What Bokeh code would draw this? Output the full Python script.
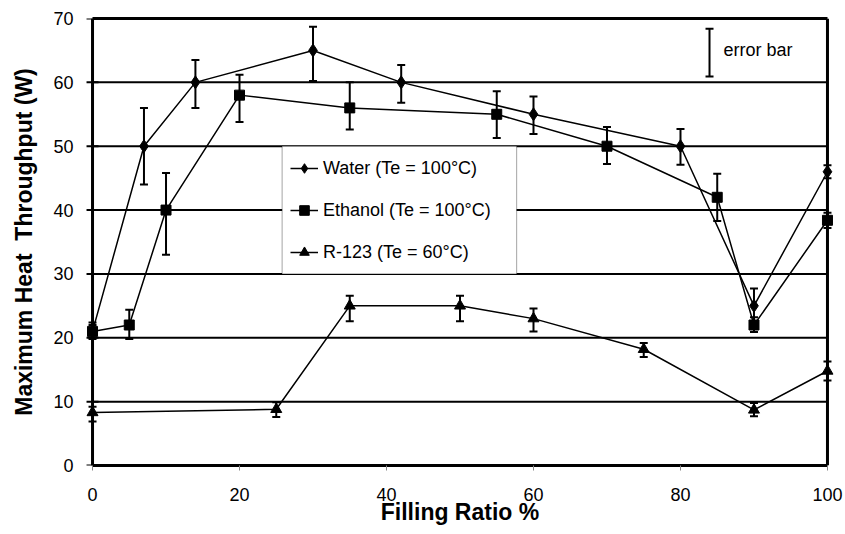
from bokeh.plotting import figure
from bokeh.models import (ColumnDataSource, Whisker, TeeHead, Legend, LegendItem,
                          BoxAnnotation, Label, FixedTicker, Range1d, LinearAxis, Span)
from bokeh.embed import file_html
from bokeh.resources import INLINE

# Filling ratio (%) and maximum heat throughput (W) with error-bar limits
water_x = [0, 7, 14, 30, 42, 60, 80, 90, 100]
water_y = [21, 50, 60, 65, 60, 55, 50, 25, 46]
water_hi = [22, 56, 63.5, 68.7, 62.7, 57.8, 52.7, 27.7, 47]
water_lo = [20, 44, 56, 60.2, 56.8, 51.9, 47.1, 22.3, 45]

ethanol_x = [0, 5, 10, 20, 35, 55, 70, 85, 90, 100]
ethanol_y = [21, 22, 40, 58, 56, 55, 50, 42, 22, 38.4]
ethanol_hi = [22.4, 24.4, 45.8, 61.2, 60, 58.6, 53, 45.7, 23.2, 39.6]
ethanol_lo = [19.8, 19.8, 33, 53.8, 52.6, 51.3, 47.2, 38.3, 20.9, 37.2]

r123_x = [0, 25, 35, 50, 60, 75, 90, 100]
r123_y = [8.3, 8.8, 25, 25, 23, 18.2, 8.7, 14.8]
r123_hi = [9.2, 9.9, 26.6, 26.6, 24.6, 19.2, 9.8, 16.3]
r123_lo = [6.9, 7.6, 22.6, 22.6, 21.0, 17.0, 7.7, 13.3]

series_names = ["Water (Te = 100°C)", "Ethanol (Te = 100°C)", "R-123 (Te = 60°C)"]
y_ticks = [0, 10, 20, 30, 40, 50, 60, 70]
x_ticks = [0, 20, 40, 60, 80, 100]
X_MIN, X_MAX = 0, 100
Y_MIN, Y_MAX = 0, 70

FONT = "Liberation Sans"
PAD = 1.5  # small margin so markers on the 0 % and 100 % edges are drawn whole

p = figure(width=845, height=534, output_backend="svg", toolbar_location=None,
           x_range=Range1d(X_MIN - PAD, X_MAX + PAD), y_range=Range1d(Y_MIN, Y_MAX),
           min_border_left=81, min_border_right=7, min_border_top=18,
           min_border_bottom=69, background_fill_color="white",
           border_fill_color="white")

p.outline_line_color = None
p.xgrid.visible = False
p.ygrid.visible = False

# Horizontal grid lines, limited to the 0-100 % span
grid_src = ColumnDataSource(dict(y=y_ticks[1:-1],
                                 x0=[X_MIN] * (len(y_ticks) - 2),
                                 x1=[X_MAX] * (len(y_ticks) - 2)))
p.segment(x0="x0", x1="x1", y0="y", y1="y", source=grid_src,
          line_color="black", line_width=2, level="underlay")

for ax in (p.xaxis[0], p.yaxis[0]):
    ax.minor_tick_line_color = None
    ax.major_tick_in = 0
    ax.major_label_text_font = FONT
    ax.major_label_text_font_size = "18px"
    ax.major_label_text_color = "black"
    ax.axis_label_text_font = FONT
    ax.axis_label_text_font_style = "bold"
    ax.axis_label_text_font_size = "23px"
    ax.axis_label_text_color = "black"

# Left axis: tick labels and title (its line and ticks sit at 0 %)
p.yaxis.ticker = FixedTicker(ticks=y_ticks)
p.yaxis.axis_line_color = None
p.yaxis.major_tick_line_color = None
p.yaxis.major_tick_out = 0
p.yaxis.major_label_standoff = 8
p.yaxis.axis_label = "Maximum Heat\u00a0 Throughput (W)"
p.yaxis.axis_label_standoff = 13

p.xaxis.ticker = FixedTicker(ticks=x_ticks)
p.xaxis.bounds = (X_MIN, X_MAX)
p.xaxis.axis_line_width = 3
p.xaxis.axis_line_color = "black"
p.xaxis.major_tick_out = 5
p.xaxis.major_tick_line_color = "#888888"
p.xaxis.major_tick_line_width = 1
p.xaxis.major_label_standoff = 17
p.xaxis.axis_label = "Filling Ratio %"
p.xaxis.axis_label_standoff = -5

# Y tick marks at 0 % (the inner half is hidden under the grid lines)
tick_src = ColumnDataSource(dict(x=[X_MIN] * len(y_ticks), y=y_ticks))
p.scatter("x", "y", source=tick_src, marker="dash", size=12,
          line_color="black", line_width=2, level="underlay")

# Frame: vertical lines at 0 % and 100 %, top line via a bare axis
p.add_layout(Span(location=X_MIN, dimension="height", line_color="black",
                  line_width=3))
p.add_layout(Span(location=X_MAX, dimension="height", line_color="black",
                  line_width=3))
top_axis = LinearAxis(ticker=FixedTicker(ticks=[]), bounds=(X_MIN, X_MAX),
                      axis_line_width=3, axis_line_color="black",
                      major_tick_line_color=None, minor_tick_line_color=None)
p.add_layout(top_axis, "above")

# Legend panel (white box spanning the 30-50 W band)
p.add_layout(BoxAnnotation(left=25.8, right=57.7, bottom=30, top=50,
                           fill_color="white", fill_alpha=1.0,
                           line_color="black", line_width=1.2, level="underlay"))

series = [
    (water_x, water_y, water_hi, water_lo, "diamond", 13),
    (ethanol_x, ethanol_y, ethanol_hi, ethanol_lo, "square", 10),
    (r123_x, r123_y, r123_hi, r123_lo, "triangle", 11),
]

items = []
for (xs, ys, hi, lo, marker, size), name in zip(series, series_names):
    src = ColumnDataSource(dict(x=xs, y=ys, hi=hi, lo=lo))
    ln = p.line("x", "y", source=src, line_color="black", line_width=1.5)
    sc = p.scatter("x", "y", source=src, marker=marker, size=size,
                   fill_color="black", line_color="black")
    p.add_layout(Whisker(base="x", upper="hi", lower="lo", source=src,
                         line_color="black", line_width=2,
                         upper_head=TeeHead(size=8, line_width=2, line_color="black"),
                         lower_head=TeeHead(size=8, line_width=2, line_color="black")))
    items.append(LegendItem(label=name, renderers=[ln, sc]))

legend = Legend(items=items, location=(199, 191), orientation="vertical",
                border_line_alpha=0, background_fill_alpha=0,
                glyph_width=28, glyph_height=24, label_height=24,
                label_standoff=5, spacing=18, padding=10, margin=0,
                label_text_font=FONT, label_text_font_size="18px",
                label_text_color="black")
p.add_layout(legend, "center")

# Error-bar key in the upper right
key_src = ColumnDataSource(dict(x=[83.95], hi=[68.4], lo=[60.9]))
p.add_layout(Whisker(base="x", upper="hi", lower="lo", source=key_src,
                     line_color="black", line_width=2,
                     upper_head=TeeHead(size=8, line_width=2, line_color="black"),
                     lower_head=TeeHead(size=8, line_width=2, line_color="black")))
p.add_layout(Label(x=85.85, y=65.1, text="error bar", text_font=FONT,
                   text_font_size="18px", text_baseline="middle",
                   text_color="black"))

open("out.html", "w").write(file_html(p, INLINE))
